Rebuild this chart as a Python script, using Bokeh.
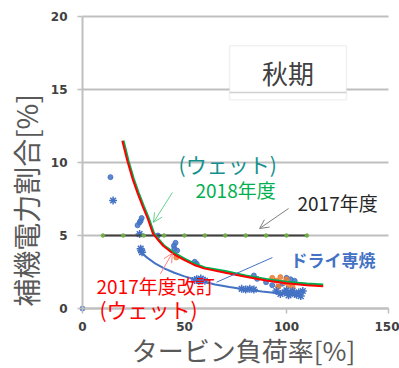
from math import pi

from bokeh.plotting import figure
from bokeh.models import FixedTicker, Label, Arrow, OpenHead, BoxAnnotation
from bokeh.embed import file_html
from bokeh.resources import INLINE

# 2017年度: fixed auxiliary power ratio
load_2017 = [10, 20, 30, 40, 50, 60, 70, 80, 90, 100, 110]
ratio_2017 = [5.0, 5.0, 5.0, 5.0, 5.0, 5.0, 5.0, 5.0, 5.0, 5.0, 5.0]

# 2018年度 (ウェット) curve
wet2018_load = [20, 22.5, 25, 27.5, 30, 32.5, 35, 37.5, 40, 45, 50, 55, 60, 70, 80, 90, 100, 110, 118]
wet2018_ratio = [11.5, 10.1, 8.9, 7.9, 7.0, 6.15, 5.15, 4.7, 4.3, 3.8, 3.4, 3.05, 2.8, 2.55, 2.25, 2.0, 1.82, 1.7, 1.62]

# 2017年度改訂 (ウェット) curve
wet2017r_load = [19.5, 22, 24.5, 27, 29.5, 32, 34.5, 37, 39.5, 44.5, 49.5, 54.5, 59.5, 70, 80, 90, 100, 110, 118]
wet2017r_ratio = [11.5, 10.1, 8.9, 7.9, 7.0, 6.15, 5.15, 4.7, 4.3, 3.75, 3.35, 3.0, 2.75, 2.45, 2.17, 1.92, 1.73, 1.6, 1.52]

# ドライ専焼 curve
dry_load = [28, 32, 36, 40, 45, 50, 57, 65, 72, 80, 88, 96, 108]
dry_ratio = [3.9, 3.45, 3.05, 2.75, 2.45, 2.2, 1.92, 1.65, 1.48, 1.3, 1.17, 1.05, 0.94]

# measured plant data (blue dots)
meas_dot_load = [0, 13.7, 27, 28, 28.5, 29, 37, 44.8, 45.6, 45, 46.4, 55, 56, 84, 85.6,
                 90, 93, 96, 98, 100, 102, 104]
meas_dot_ratio = [0.0, 9.0, 5.7, 5.9, 6.0, 6.2, 5.0, 4.3, 4.5, 4.1, 3.97, 3.2, 3.06, 2.26, 2.03,
                  1.8, 1.6, 1.5, 1.7, 2.1, 2.0, 1.9]

# measured plant data, dry firing (blue crosses)
meas_x_load = [15, 28, 28.5, 28.8, 29.2, 55, 56, 57, 58, 59, 60, 78, 80, 82, 84,
               95, 97, 99, 100, 101, 102, 103, 104, 105, 106, 107, 108]
meas_x_ratio = [7.4, 5.1, 4.1, 3.97, 3.85, 1.95, 2.0, 1.9, 2.05, 1.95, 1.9, 1.35, 1.3, 1.35, 1.3,
                1.2, 1.0, 1.1, 1.25, 0.9, 1.05, 1.2, 1.0, 0.95, 1.1, 0.85, 1.2]

# measured plant data (orange dots)
meas_o_load = [46, 93, 95, 96, 97, 99, 100, 101, 103]
meas_o_ratio = [3.5, 2.1, 1.9, 1.5, 2.15, 1.8, 2.0, 1.6, 1.45]

x_ticks = [0, 50, 100, 150]
y_ticks = [0, 5, 10, 15, 20]
x_title = "タービン負荷率[%]"
y_title = "補機電力割合[%]"

JP = "Noto Sans CJK JP"
BLUE = "#4472c4"
GRAY = "#bfbfbf"

# The frame covers the whole canvas; the axes sit at x=0 / y=0 inside it so
# that notes overlapping the axes are not cut off.
p = figure(width=399, height=368, x_range=(-40.2, 155.4), y_range=(-4.11, 21.1),
           output_backend="svg", toolbar_location=None,
           min_border_left=0, min_border_right=0, min_border_top=0,
           min_border_bottom=0)
p.title.visible = False
p.outline_line_color = None
p.background_fill_color = "white"
p.border_fill_color = "white"

p.xgrid.visible = False
p.ygrid.grid_line_color = GRAY
p.ygrid.grid_line_width = 2
p.ygrid.ticker = FixedTicker(ticks=y_ticks)
p.ygrid.cross_bounds = (0, 150)

for ax in (p.xaxis[0], p.yaxis[0]):
    ax.fixed_location = 0
    ax.axis_line_color = GRAY
    ax.axis_line_width = 2
    ax.major_tick_line_color = GRAY
    ax.major_tick_line_width = 1.5
    ax.major_tick_in = 0
    ax.major_tick_out = 5
    ax.minor_tick_line_color = None
    ax.major_label_text_font = "DejaVu Sans"
    ax.major_label_text_font_style = "bold"
    ax.major_label_text_font_size = "12px"
    ax.major_label_text_color = "#404040"

p.xaxis.ticker = FixedTicker(ticks=x_ticks)
p.yaxis.ticker = FixedTicker(ticks=y_ticks)
p.xaxis.bounds = (0, 150)
p.yaxis.bounds = (0, 20)
p.xaxis.major_label_standoff = 8
p.yaxis.major_label_standoff = 10

# axis titles
p.add_layout(Label(x=78.9, y=-2.8, text=x_title, text_font=JP, text_font_size="26px",
                   text_color="#595959", text_align="center", text_baseline="middle"))
p.add_layout(Label(x=-27.7, y=7.4, text=y_title, angle=pi / 2, text_font=JP,
                   text_font_size="28px", text_color="#595959",
                   text_align="center", text_baseline="middle"))

# scatter of measured data
p.scatter(meas_dot_load, meas_dot_ratio, marker="circle", size=5,
          fill_color=BLUE, line_color=BLUE, alpha=0.85)
p.scatter(meas_o_load, meas_o_ratio, marker="circle", size=5,
          fill_color="#ed7d31", line_color="#ed7d31", alpha=0.85)
p.scatter(meas_x_load, meas_x_ratio, marker="asterisk", size=8,
          line_color=BLUE, line_width=1.5)

# 2017年度 line with markers
p.line(load_2017, ratio_2017, line_color="#404040", line_width=2)
p.scatter(load_2017, ratio_2017, marker="circle", size=3.5,
          fill_color="#70ad47", line_color="#70ad47")

# fitted curves
p.line(wet2018_load, wet2018_ratio, line_color="#00b050", line_width=2.5)
p.line(wet2017r_load, wet2017r_ratio, line_color="#ff0000", line_width=2)
p.line(dry_load, dry_ratio, line_color=BLUE, line_width=2)

# season box
p.add_layout(BoxAnnotation(left=72.1, right=129.4, top=18.0, bottom=14.3,
                           fill_color="white", fill_alpha=1.0,
                           line_color="#d0d0d0", line_width=1.5))
p.add_layout(Arrow(end=None, x_start=72.1, y_start=14.8, x_end=129.4, y_end=14.8,
                   line_color="#d0d0d0", line_width=1.5))
p.add_layout(Label(x=100.7, y=16.15, text="秋期", text_font=JP, text_font_size="26px",
                   text_color="#404040", text_align="center", text_baseline="middle"))

# annotation arrows
p.add_layout(Arrow(end=OpenHead(size=9, line_color="#66d08f", line_width=1),
                   x_start=44.1, y_start=7.95, x_end=34.8, y_end=5.9,
                   line_color="#66d08f", line_width=1))
p.add_layout(Arrow(end=OpenHead(size=9, line_color="#7f7f7f", line_width=1),
                   x_start=101.0, y_start=6.85, x_end=86.8, y_end=5.48,
                   line_color="#7f7f7f", line_width=1))
p.add_layout(Arrow(end=OpenHead(size=9, line_color="#ff8080", line_width=1),
                   x_start=38.2, y_start=2.38, x_end=44.0, y_end=3.79,
                   line_color="#ff8080", line_width=1))
p.add_layout(Arrow(end=None, x_start=65.7, y_start=1.8, x_end=93.1, y_end=3.49,
                   line_color=BLUE, line_width=1))

# annotation texts
def note(x, y, text, color, size="19px", style="normal"):
    p.add_layout(Label(x=x, y=y, text=text, text_font=JP, text_font_size=size,
                       text_font_style=style, text_color=color,
                       text_align="left", text_baseline="middle"))

note(47.1, 9.93, "(ウェット)", "#14908f", size="21px")
note(55.4, 8.15, "2018年度", "#00b050")
note(105.4, 7.26, "2017年度", "#262626")
note(102.0, 3.36, "ドライ専焼", BLUE, size="17px", style="bold")
note(6.9, 1.58, "2017年度改訂", "#ff0000")
note(8.3, 0.0, "(ウェット)", "#ff0000", size="21px")

open("out.html", "w").write(file_html(p, INLINE))
